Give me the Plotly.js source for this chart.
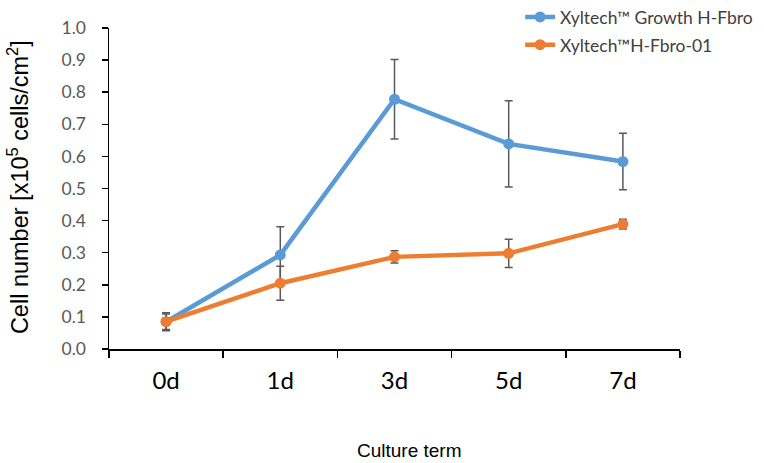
<!DOCTYPE html>
<html>
<head>
<meta charset="utf-8">
<script src="https://cdn.plot.ly/plotly-3.0.1.min.js"></script>
<style>html,body{margin:0;padding:0;background:#fff;}#chart{width:764px;height:463px;}</style>
</head>
<body>
<div id="chart"></div>
<script>
var categories = ["0d", "1d", "3d", "5d", "7d"];
var growthName = "Xyltech™ Growth H-Fbro";
var growthValues = [0.085, 0.293, 0.778, 0.639, 0.584];
var growthErrors = [0.028, 0.088, 0.124, 0.134, 0.088];
var fbroName = "Xyltech™H-Fbro-01";
var fbroValues = [0.085, 0.205, 0.287, 0.298, 0.389];
var fbroErrors = [0.024, 0.053, 0.019, 0.044, 0.015];
var yTicks = [0, 0.1, 0.2, 0.3, 0.4, 0.5, 0.6, 0.7, 0.8, 0.9, 1.0];

var errStyle = {type: "data", visible: true, color: "#595959", thickness: 1.5, width: 4};

var traces = [
  {
    x: categories, y: growthValues, name: growthName, type: "scatter", mode: "lines+markers",
    legendgroup: "g1",
    line: {color: "#5B9BD5", width: 4.5}, marker: {color: "#5B9BD5", size: 11},
    error_y: Object.assign({array: growthErrors}, errStyle)
  },
  {
    x: categories, y: fbroValues, name: fbroName, type: "scatter", mode: "lines+markers",
    legendgroup: "g2",
    line: {color: "#ED7D31", width: 4.5}, marker: {color: "#ED7D31", size: 11},
    error_y: Object.assign({array: fbroErrors}, errStyle)
  }
];

var layout = {
  width: 764, height: 463,
  margin: {l: 109, r: 84, t: 28, b: 114, autoexpand: false},
  paper_bgcolor: "#fff", plot_bgcolor: "#fff",
  showlegend: true,
  legend: {
    x: 0.72, y: 1.09, xanchor: "left", yanchor: "top",
    font: {family: "Lato, 'Open Sans', sans-serif", size: 17.5, color: "#404040"},
    bgcolor: "rgba(0,0,0,0)", traceorder: "grouped", tracegroupgap: 2, itemwidth: 30
  },
  xaxis: {
    type: "category", range: [-0.5, 4.5],
    showline: true, linecolor: "#000", linewidth: 1.5,
    ticks: "outside", tickson: "boundaries", ticklen: 7, tickcolor: "#000", tickwidth: 1.5,
    showgrid: false, zeroline: false, automargin: false,
    tickfont: {family: "Lato, 'Open Sans', sans-serif", size: 24, color: "#000"},
    ticklabelstandoff: 10
  },
  yaxis: {
    range: [0, 1.0], tickvals: yTicks, ticktext: yTicks.map(function(v){return v.toFixed(1);}),
    showline: true, linecolor: "#000", linewidth: 1.5,
    ticks: "outside", ticklen: 6, tickcolor: "#000", tickwidth: 1.5,
    showgrid: false, zeroline: false, automargin: false,
    tickfont: {family: "Lato, 'Open Sans', sans-serif", size: 17.5, color: "#595959"},
    ticklabelstandoff: 12
  },
  annotations: [
    {
      text: "Culture term", xref: "paper", yref: "paper", x: 0.527, y: -0.315,
      xanchor: "center", yanchor: "middle", showarrow: false,
      font: {family: "'Liberation Sans', Arial, sans-serif", size: 19, color: "#000"}
    },
    {
      text: "Cell number [x10<sup>5</sup> cells/cm<sup>2</sup>]", xref: "paper", yref: "paper",
      x: -0.159, y: 0.505, xanchor: "center", yanchor: "middle", textangle: -90, showarrow: false,
      font: {family: "'Liberation Sans', Arial, sans-serif", size: 23.5, color: "#000"}
    }
  ]
};

Plotly.newPlot("chart", traces, layout, {displayModeBar: false, staticPlot: true});
</script>
</body>
</html>
